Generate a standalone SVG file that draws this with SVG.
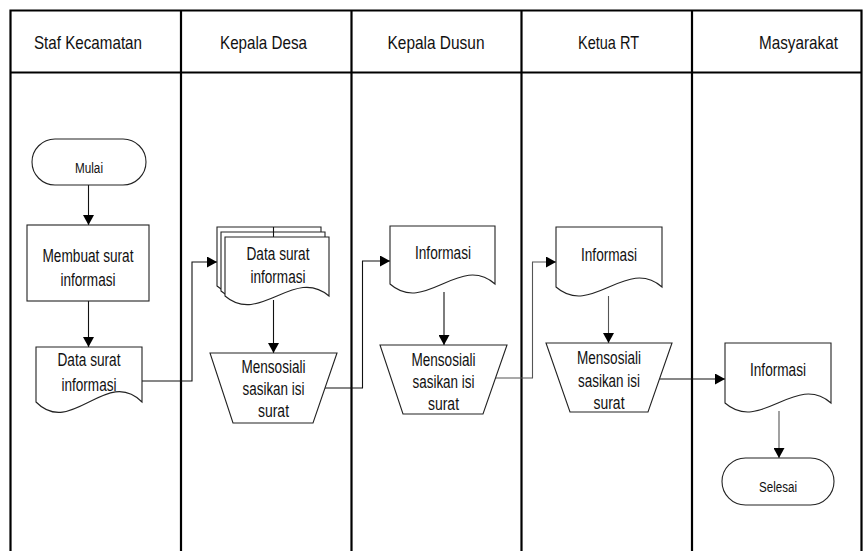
<svg xmlns="http://www.w3.org/2000/svg" width="868" height="551" viewBox="0 0 868 551">
<style>
.lane{stroke:#000;stroke-width:2.2;fill:none}
.shape{fill:#fff;stroke:#222;stroke-width:1.1}
.conn{fill:none;stroke:#111;stroke-width:1.1}
.grey{stroke:#555}
text{font-family:"Liberation Sans",Arial,sans-serif;fill:#111;text-anchor:middle}
.h{font-size:18.5px}
.b{font-size:17.5px}
.s{font-size:14px}
</style>
<defs>
<marker id="arr" markerUnits="userSpaceOnUse" markerWidth="11" markerHeight="11" refX="10" refY="5.5" orient="auto">
<path d="M0,0 L10,5.5 L0,11 Z" fill="#000"/>
</marker>
</defs>
<rect width="868" height="551" fill="#fff"/>
<g id="lanes">
<path class="lane" d="M10.5 551 V10.5 H861.5 V551 M10.5 72.5 H861.5 M181 10.5 V551 M351.5 10.5 V551 M521.5 10.5 V551 M692 10.5 V551"/>
<text class="h" x="88" y="48.5" textLength="108" lengthAdjust="spacingAndGlyphs">Staf Kecamatan</text>
<text class="h" x="263.5" y="48.5" textLength="87" lengthAdjust="spacingAndGlyphs">Kepala Desa</text>
<text class="h" x="436" y="48.5" textLength="97" lengthAdjust="spacingAndGlyphs">Kepala Dusun</text>
<text class="h" x="608.5" y="48.5" textLength="61" lengthAdjust="spacingAndGlyphs">Ketua RT</text>
<text class="h" x="798.5" y="48.5" textLength="79" lengthAdjust="spacingAndGlyphs">Masyarakat</text>
</g>
<g id="connectors">
<path class="conn" d="M88.5 185 V225" marker-end="url(#arr)"/>
<path class="conn" d="M88.5 301 V347" marker-end="url(#arr)"/>
<path class="conn" d="M142 381 H192 V262 H217" marker-end="url(#arr)"/>
<path class="conn" d="M273.5 300 V353" marker-end="url(#arr)"/>
<path class="conn" d="M325 388 H362.5 V261 H390" marker-end="url(#arr)"/>
<path class="conn" d="M444 292 V345" marker-end="url(#arr)"/>
<path class="conn grey" d="M495.5 378 H532.5 V262 H556" marker-end="url(#arr)"/>
<path class="conn grey" d="M608.5 296 V343" marker-end="url(#arr)"/>
<path class="conn" d="M659.5 379 H725" marker-end="url(#arr)"/>
<path class="conn grey" d="M779 411 V458" marker-end="url(#arr)"/>
</g>
<g id="mulai">
<rect class="shape" x="32" y="139" width="114" height="46" rx="23"/>
<text class="s" x="89" y="173" textLength="28" lengthAdjust="spacingAndGlyphs">Mulai</text>
</g>
<g id="membuat-surat">
<rect class="shape" x="27" y="225" width="122" height="76"/>
<text class="b" x="88" y="262" textLength="91" lengthAdjust="spacingAndGlyphs">Membuat surat</text>
<text class="b" x="88" y="286" textLength="55" lengthAdjust="spacingAndGlyphs">informasi</text>
</g>
<g id="data-surat-1">
<path class="shape" d="M36 347 H142 V402 C106.7 366 71.3 438 36 402 Z"/>
<text class="b" x="89" y="366" textLength="63" lengthAdjust="spacingAndGlyphs">Data surat</text>
<text class="b" x="89" y="391" textLength="55" lengthAdjust="spacingAndGlyphs">informasi</text>
</g>
<g id="data-surat-2">
<path class="shape" d="M217 227 H321 V286 C286.3 256 251.7 316 217 286 Z"/>
<path class="shape" d="M221 232 H325 V291 C290.3 261 255.7 321 221 291 Z"/>
<path class="conn" d="M273.5 227 V237"/>
<path class="shape" d="M225 237 H329 V296 C294.3 266 259.7 326 225 296 Z"/>
<text class="b" x="278" y="260" textLength="63" lengthAdjust="spacingAndGlyphs">Data surat</text>
<text class="b" x="278" y="283" textLength="55" lengthAdjust="spacingAndGlyphs">informasi</text>
</g>
<g id="sosialisasi-1">
<path class="shape" d="M210 353 H337 L313 423 H233 Z"/>
<text class="b" x="273.5" y="373" textLength="64" lengthAdjust="spacingAndGlyphs">Mensosiali</text>
<text class="b" x="273.5" y="395" textLength="62" lengthAdjust="spacingAndGlyphs">sasikan isi</text>
<text class="b" x="273.5" y="417" textLength="31" lengthAdjust="spacingAndGlyphs">surat</text>
</g>
<g id="informasi-dusun">
<path class="shape" d="M390 226 H495 V284 C460 253 425 315 390 284 Z"/>
<text class="b" x="443" y="259" textLength="56" lengthAdjust="spacingAndGlyphs">Informasi</text>
</g>
<g id="sosialisasi-2">
<path class="shape" d="M380 345 H507 L483 414 H403 Z"/>
<text class="b" x="443.5" y="366" textLength="64" lengthAdjust="spacingAndGlyphs">Mensosiali</text>
<text class="b" x="443.5" y="388" textLength="62" lengthAdjust="spacingAndGlyphs">sasikan isi</text>
<text class="b" x="443.5" y="410" textLength="31" lengthAdjust="spacingAndGlyphs">surat</text>
</g>
<g id="informasi-rt">
<path class="shape" d="M556 227 H662 V287 C626.7 256 591.3 318 556 287 Z"/>
<text class="b" x="609" y="261" textLength="56" lengthAdjust="spacingAndGlyphs">Informasi</text>
</g>
<g id="sosialisasi-3">
<path class="shape" d="M546 343 H672 L648 412 H570 Z"/>
<text class="b" x="609" y="364" textLength="64" lengthAdjust="spacingAndGlyphs">Mensosiali</text>
<text class="b" x="609" y="387" textLength="62" lengthAdjust="spacingAndGlyphs">sasikan isi</text>
<text class="b" x="609" y="409" textLength="31" lengthAdjust="spacingAndGlyphs">surat</text>
</g>
<g id="informasi-masyarakat">
<path class="shape" d="M725 343 H831 V403 C795.7 372 760.3 434 725 403 Z"/>
<text class="b" x="778" y="376" textLength="56" lengthAdjust="spacingAndGlyphs">Informasi</text>
</g>
<g id="selesai">
<rect class="shape" x="722" y="458" width="112" height="47" rx="23.5"/>
<text class="s" x="778" y="492" textLength="38" lengthAdjust="spacingAndGlyphs">Selesai</text>
</g>
</svg>
